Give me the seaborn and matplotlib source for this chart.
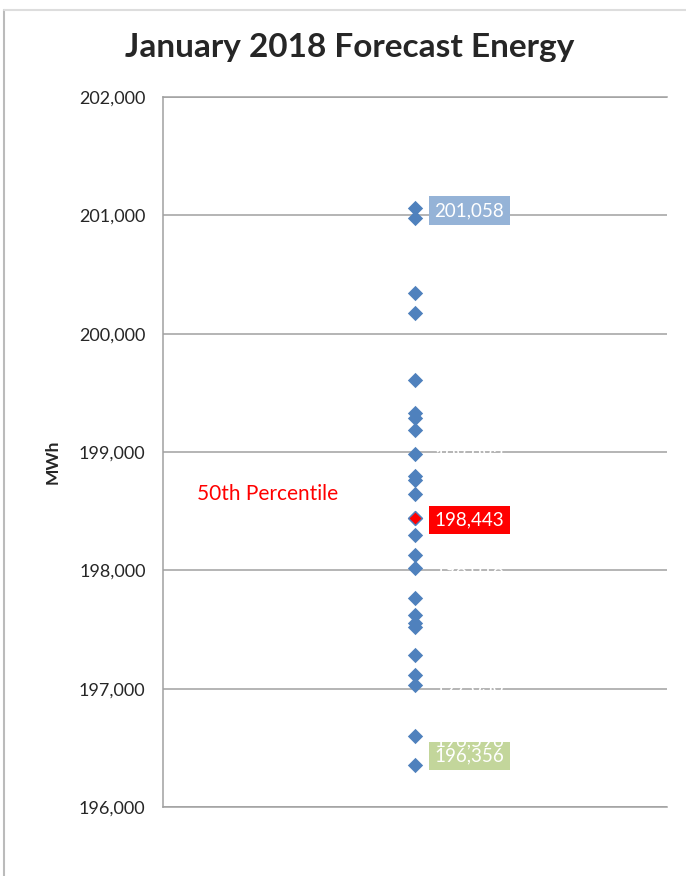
import numpy as np
import matplotlib.pyplot as plt
import matplotlib.lines as mlines
import pandas as pd
import seaborn as sb

# forecast energy for the month, one value per weather scenario (MWh)
energy = [201058, 200975, 200343, 200174, 199608, 199330, 199287, 199185,
          198982, 198800, 198763, 198644, 198443, 198298, 198128, 198018,
          197765, 197621, 197554, 197520, 197283, 197114, 197030, 196596, 196356]
month = "January 2018"
yticks = [196000, 197000, 198000, 199000, 200000, 201000, 202000]

data = pd.DataFrame({"Month": month, "MWh": energy})
p50 = data["MWh"].median()
e_max = data["MWh"].max()
e_min = data["MWh"].min()

blue = "#4F81BD"
grid = "#A0A0A0"

sb.set_style("white")
plt.rcParams["font.family"] = ["Lato", "DejaVu Sans"]

fig = plt.figure(figsize=(6.86, 8.76), dpi=100)
ax = fig.add_axes([0.2376, 0.0788, 0.7347, 0.8105])

sb.stripplot(data=data, x="Month", y="MWh", jitter=False, marker="D",
             size=7.8, color=blue, linewidth=0, ax=ax, zorder=3)
# highlight the median
sb.scatterplot(data=data[data["MWh"] == p50], x="Month", y="MWh", marker="D",
               s=50, color="red", edgecolor=blue, linewidth=1.0, ax=ax, zorder=4)

ax.set_xlim(-1, 1)
ax.set_xticks([-1, 0, 1])
ax.set_xticklabels([])
ax.set_xlabel("")
ax.set_ylim(196000, 202000)
ax.set_yticks(yticks)
ax.set_yticklabels([f"{t:,}" for t in yticks], fontsize=13)
ax.yaxis.grid(True, color=grid, lw=1.1)
ax.set_axisbelow(True)

for side in ["left", "bottom", "top"]:
    ax.spines[side].set_color(grid)
    ax.spines[side].set_linewidth(1.1)
ax.spines["right"].set_visible(False)
ax.tick_params(axis="y", direction="out", length=4.5, width=1.1, color=grid, pad=8)
ax.tick_params(axis="x", direction="inout", length=8, width=1.1, color=grid)

ax.set_ylabel("MWh", fontsize=12.5, fontweight="bold")
ax.yaxis.set_label_coords(-0.204, 0.486)

# data labels (white ones only show over gridlines / boxes, as in Excel)
for i, v in enumerate(sorted(energy)):
    box = None
    dy = -1.5
    if v == e_max:
        box = "#95B3D7"
    elif v == p50:
        box = "red"
    elif v == e_min:
        box = "#C3D69B"
        dy = 6.5
    elif i == 1:
        dy = -3.5
    bbox = dict(boxstyle="square,pad=0.3", fc=box, ec="none") if box else None
    ax.annotate(f"{v:,}", xy=(0, v), xytext=(14, dy), textcoords="offset points",
                ha="left", va="center", color="white", fontsize=13.5,
                bbox=bbox, zorder=5 + i * 0.01)

ax.text(-0.865, p50 + 200, "50th Percentile", color="red", fontsize=15,
        va="center", ha="left")

fig.text(0.51, 1 - 48 / 876, "January 2018 Forecast Energy", ha="center",
         va="center", fontsize=24, fontweight="bold")

# spreadsheet border around the chart object
fig.add_artist(mlines.Line2D([4 / 686, 4 / 686], [0, 1 - 10 / 876],
                             color="#BBBBBB", lw=1.5))
fig.add_artist(mlines.Line2D([4 / 686, 1], [1 - 10 / 876, 1 - 10 / 876],
                             color="#DDDDDD", lw=1.5))

fig.savefig("out.png", dpi=100)
